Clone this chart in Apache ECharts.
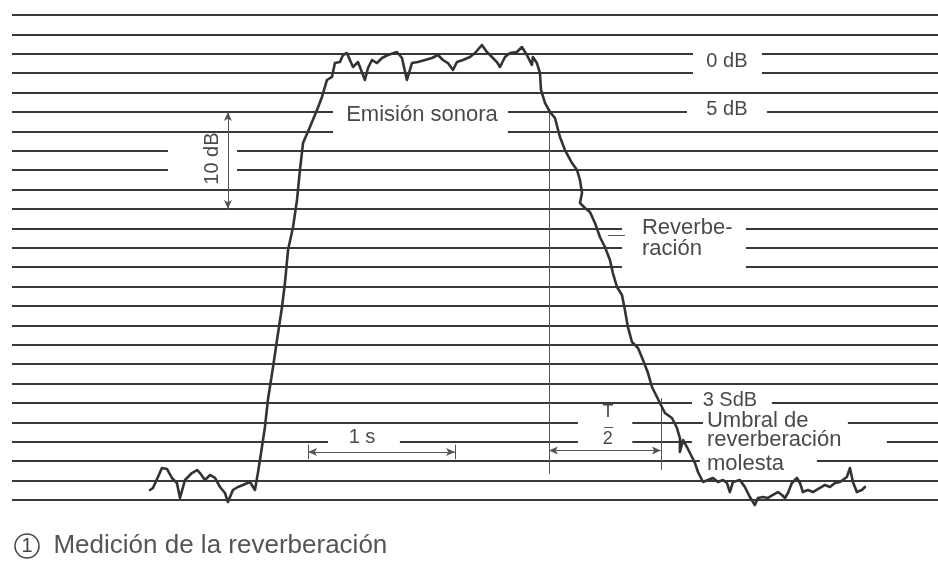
<!DOCTYPE html>
<html><head><meta charset="utf-8">
<script src="https://cdn.jsdelivr.net/npm/echarts@6/dist/echarts.min.js"></script>
<style>html,body{margin:0;padding:0;background:#fff}#c{width:938px;height:575px}</style>
</head><body><div id="c"></div>
<script>
// time in seconds, level in dB below the emission level (0 dB)
const noiseBefore = [[0.939,43.97],[0.959,43.76],[0.993,42.63],[1.020,41.70],[1.054,41.80],[1.088,42.73],[1.122,43.25],[1.143,44.79],[1.177,42.94],[1.224,42.22],[1.259,41.91],[1.279,42.22],[1.313,42.94],[1.347,42.42],[1.381,42.73],[1.415,43.66],[1.449,44.28],[1.469,45.21],[1.503,43.97],[1.537,43.66],[1.571,43.45],[1.619,43.14],[1.653,43.97],[1.673,42.22]];
const rise = [[1.687,40.88],[1.721,37.47],[1.741,34.69],[1.776,31.29],[1.803,28.51],[1.837,25.10],[1.857,22.63],[1.878,19.23],[1.912,16.86],[1.939,14.07],[1.959,10.98],[1.980,8.20],[2.027,6.55],[2.075,4.79],[2.109,3.45],[2.143,1.70]];
const plateau = [[2.177,1.39],[2.197,-0.05],[2.231,-0.15],[2.252,-0.88],[2.279,-1.08],[2.299,-0.36],[2.320,0.36],[2.354,-0.15],[2.401,1.70],[2.422,0.46],[2.449,-0.36],[2.483,-0.05],[2.517,-0.57],[2.558,-0.88],[2.619,-1.19],[2.653,-0.57],[2.687,1.70],[2.721,-0.05],[2.762,-0.15],[2.810,-0.36],[2.857,-0.57],[2.898,-0.88],[2.932,-0.36],[2.966,-0.05],[3.000,0.67],[3.027,-0.15],[3.068,-0.36],[3.116,-0.67],[3.150,-1.08],[3.197,-1.91],[3.231,-1.19],[3.265,-0.67],[3.299,-0.15],[3.320,0.36],[3.354,-0.67],[3.388,-1.08],[3.435,-1.19],[3.469,-1.70],[3.503,-0.88],[3.537,0.15],[3.544,-0.67],[3.571,-0.05],[3.592,0.98]];
const decay = [[3.599,2.73],[3.626,4.07],[3.660,5.00],[3.694,5.62],[3.728,7.58],[3.762,8.92],[3.810,10.26],[3.844,10.98],[3.864,12.01],[3.878,13.35],[3.864,14.38],[3.898,14.90],[3.932,15.31],[3.966,16.44],[4.000,17.89],[4.034,18.92],[4.068,20.26],[4.088,21.60],[4.116,23.04],[4.150,23.87],[4.170,25.41],[4.190,27.16],[4.218,28.71],[4.259,29.33],[4.293,30.57],[4.327,31.91],[4.354,33.35],[4.388,34.38],[4.422,35.41],[4.442,36.03],[4.490,36.55],[4.524,37.58],[4.544,38.61],[4.544,40.05],[4.565,38.81],[4.592,39.54],[4.626,40.57],[4.646,41.18],[4.667,42.11]];
const noiseAfter = [[4.701,43.14],[4.735,42.94],[4.769,42.73],[4.803,43.14],[4.837,42.94],[4.864,43.25],[4.884,44.18],[4.905,43.14],[4.952,42.94],[4.986,43.66],[5.020,44.69],[5.054,45.52],[5.075,44.79],[5.109,44.69],[5.143,44.79],[5.177,44.48],[5.211,44.18],[5.238,44.48],[5.259,44.79],[5.279,44.28],[5.306,43.25],[5.340,42.73],[5.361,43.25],[5.381,44.18],[5.415,43.97],[5.449,44.18],[5.497,43.76],[5.531,43.45],[5.565,43.66],[5.599,43.25],[5.633,43.14],[5.680,42.63],[5.701,41.70],[5.721,43.14],[5.748,44.18],[5.782,43.97],[5.803,43.66]];

// annotation texts, anchored in (s, dB)
const labelTexts = ['0 dB','5 dB','Emisión sonora','10 dB','Reverbe-','ración','3 SdB','T','2','Umbral de','reverberación','molesta','1 s'];
const labelTime  = [4.864, 4.864, 2.789, 1.367, 4.286, 4.286, 4.884, 4.054, 4.054, 4.728, 4.728, 4.728, 2.381];
const labelLevel = [-0.2, 4.7, 5.3, 9.8, 17.0, 19.1, 34.7, 35.9, 38.7, 36.8, 38.8, 41.3, 38.6];
// breaks in the ruled lines behind the texts: [t1, t2, dB1, dB2]
const lineBreaks = [[4.633,5.102,-2,2],[4.592,5.136,4,6],[2.184,3.374,4,8],[1.061,1.531,8,12],[4.150,4.993,16,22],[4.626,5.170,34,36],[3.850,4.220,36,40],[4.701,5.687,36,38],[4.626,5.952,38,40],[4.680,5.476,40,42],[2.150,2.639,38,40]];
// measuring marks: from, to, arrows
const guideFrom = [[1.469,5],[2.014,40.05],[2.014,39.3],[3.014,39.3],[3.653,5],[4.415,34.5],[3.653,39.9],[4.030,37.5],[4.054,17.7]];
const guideTo   = [[1.469,15],[3.014,40.05],[2.014,40.8],[3.014,40.8],[3.653,42.3],[4.415,41.9],[4.415,39.9],[4.090,37.5],[4.170,17.7]];
const guideArrow = [true,true,false,false,false,false,true,false,false];

const INK = '#393939';
const TEXT = '#4a4a4a';
const FONT = '"Liberation Sans", Arial, sans-serif';
const curve = [].concat(noiseBefore, rise, plateau, decay, noiseAfter);

const chart = echarts.init(document.getElementById('c'));
chart.setOption({
  animation: false,
  backgroundColor: '#fff',
  title: {
    left: 10, top: 528,
    text: '{c|1}  Medición de la reverberación',
    textStyle: {
      fontFamily: FONT, fontSize: 26, fontWeight: 'normal', color: '#555',
      rich: { c: { width: 24, height: 24, lineHeight: 24, borderColor: '#444', borderWidth: 1.5, borderRadius: 14, align: 'center', fontSize: 20, color: '#444', fontFamily: FONT } }
    }
  },
  grid: { left: 12, right: 0, top: 15, bottom: 75 },
  xAxis: { type: 'value', min: 0, max: 6.3, show: false },
  yAxis: {
    type: 'value', inverse: true, min: -5, max: 45, interval: 2,
    axisLine: { show: false }, axisTick: { show: false }, axisLabel: { show: false },
    splitLine: { show: true, lineStyle: { color: INK, width: 2 } }
  },
  series: [
    {
      type: 'custom', silent: true, z: 1,
      data: lineBreaks,
      encode: { x: [0, 1], y: [2, 3] },
      renderItem: function (params, api) {
        const a = api.coord([api.value(0), api.value(2)]);
        const b = api.coord([api.value(1), api.value(3)]);
        return { type: 'rect', shape: { x: Math.min(a[0], b[0]), y: Math.min(a[1], b[1]), width: Math.abs(b[0] - a[0]), height: Math.abs(b[1] - a[1]) }, style: { fill: '#fff' } };
      }
    },
    {
      type: 'line', z: 5, clip: false, silent: true,
      data: curve, symbol: 'none', smooth: false,
      lineStyle: { color: '#333', width: 2.6, join: 'round', cap: 'round' },
      markLine: {
        silent: true, animation: false,
        label: { show: false }, emphasis: { disabled: true },
        lineStyle: { type: 'solid', color: '#555', width: 1 },
        data: guideFrom.map(function (f, i) {
          const s = guideArrow[i] ? 'arrow' : 'none';
          return [{ coord: f, symbol: s, symbolSize: [6, 9] }, { coord: guideTo[i], symbol: s, symbolSize: [6, 9] }];
        })
      }
    },
    {
      type: 'custom', silent: true, z: 6,
      data: labelTexts.map(function (t, i) { return [labelTime[i], labelLevel[i], i]; }),
      encode: { x: 0, y: 1 },
      renderItem: function (params, api) {
        const i = api.value(2);
        const p = api.coord([api.value(0), api.value(1)]);
        const txt = labelTexts[i];
        const leftAligned = (i === 4 || i === 5 || i === 9 || i === 10 || i === 11);
        const size = (i === 7 || i === 8) ? 18 : ((i === 2 || leftAligned) ? 22 : 20);
        return {
          type: 'text', x: p[0], y: p[1], rotation: i === 3 ? Math.PI / 2 : 0,
          style: { text: txt, fill: TEXT, fontFamily: FONT, fontSize: size, align: leftAligned ? 'left' : 'center', verticalAlign: 'middle' }
        };
      }
    }
  ]
});
</script></body></html>
